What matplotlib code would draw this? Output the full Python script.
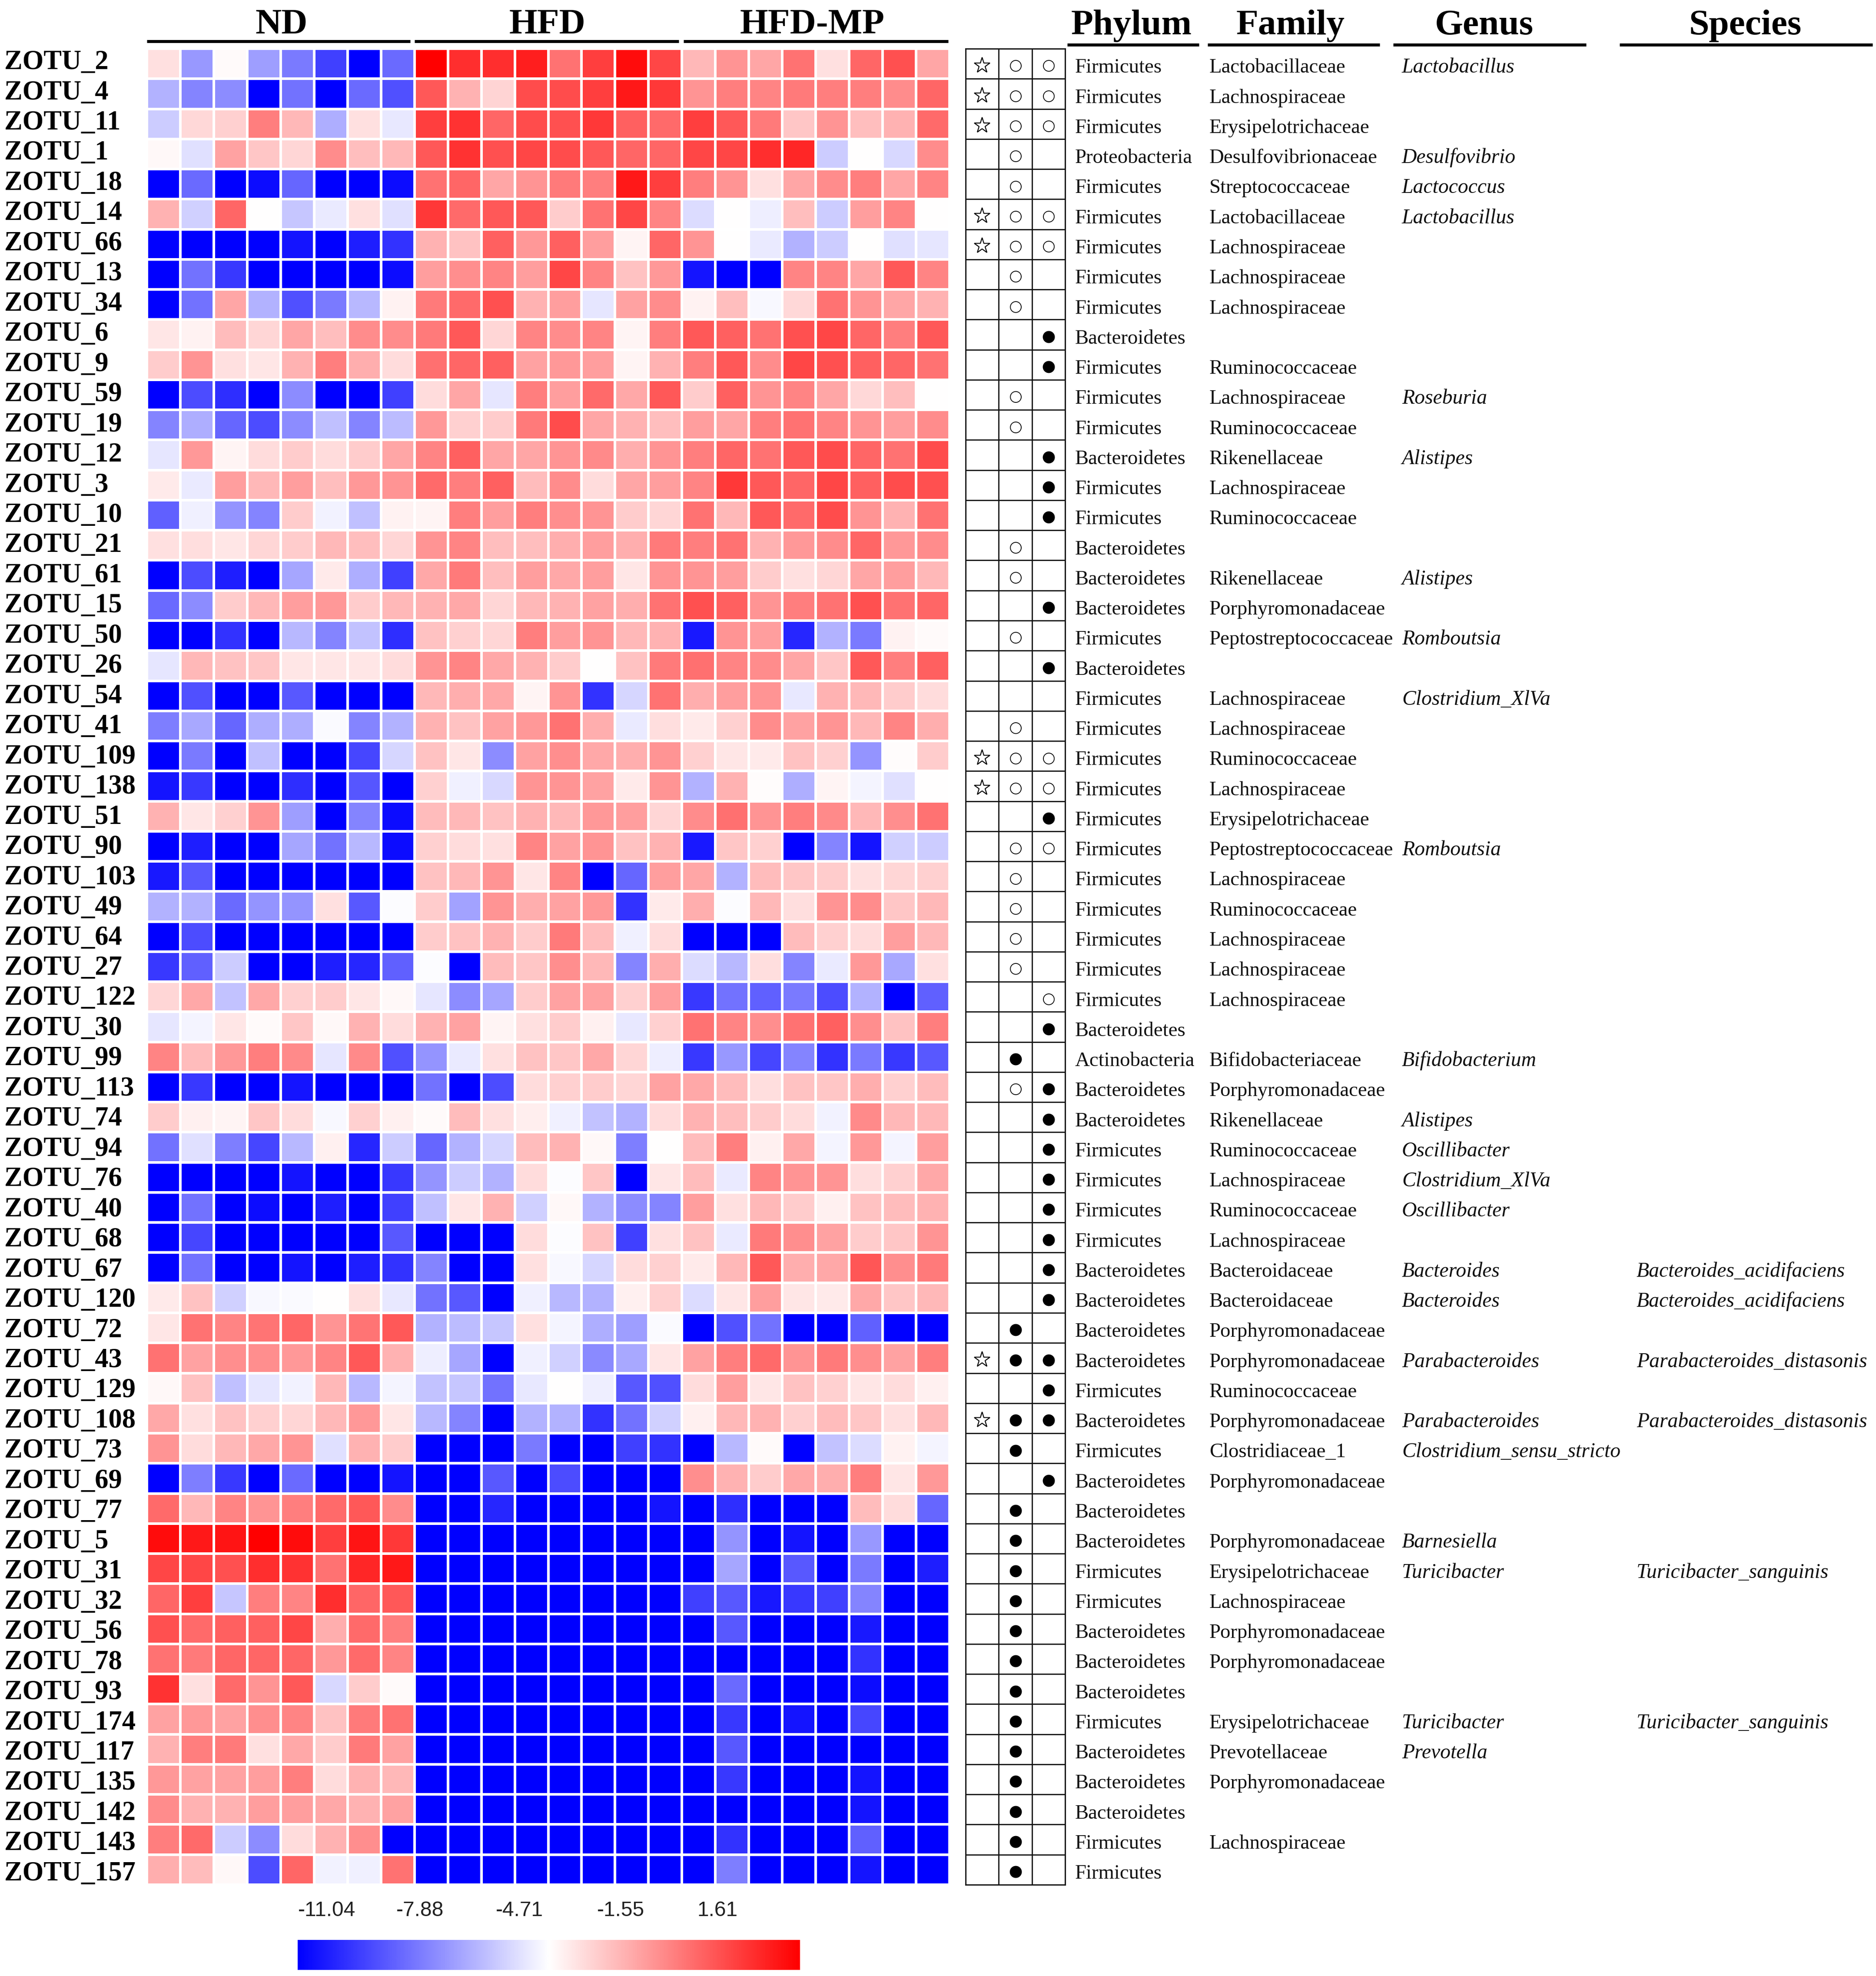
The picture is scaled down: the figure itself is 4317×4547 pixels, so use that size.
import matplotlib

matplotlib.use("Agg")
import matplotlib.pyplot as plt
import numpy as np
from matplotlib.colors import LinearSegmentedColormap, Normalize

W, H = 4317, 4547
HEAT = (338, 112, 2185, 4337)
GRID = (2222, 112, 2451, 4337)
CBAR = (685, 4464, 1841, 4533)
SERIF = "Liberation Serif"
SANS = "Liberation Sans"

zotu = [2, 4, 11, 1, 18, 14, 66, 13, 34, 6, 9, 59, 19, 12, 3, 10, 21, 61, 15, 50, 26, 54, 41, 109, 138, 51, 90,
        103, 49, 64, 27, 122, 30, 99, 113, 74, 94, 76, 40, 68, 67, 120, 72, 43, 129, 108, 73, 69, 77, 5, 31, 32,
        56, 78, 93, 174, 117, 135, 142, 143, 157]

# colour strength per cell, -100 is full blue and 100 is full red
nd = [
    [12, -40, 2, -38, -52, -75, -100, -58], [-30, -48, -45, -100, -55, -100, -58, -68],
    [-20, 15, 18, 50, 28, -32, 12, -9], [3, -12, 36, 22, 16, 45, 25, 28],
    [-100, -58, -100, -95, -60, -100, -100, -95], [30, -18, 60, 0, -22, -8, 12, -12],
    [-100, -100, -100, -100, -92, -100, -88, -80], [-100, -55, -78, -100, -100, -100, -100, -95],
    [-100, -55, 35, -30, -68, -52, -28, 5], [10, 5, 26, 16, 35, 25, 45, 45],
    [20, 42, 12, 10, 30, 50, 32, 14], [-100, -70, -82, -100, -45, -100, -100, -75],
    [-48, -32, -60, -70, -45, -25, -48, -26], [-10, 40, 4, 14, 20, 14, 20, 35],
    [8, -8, 38, 28, 38, 25, 40, 42], [-62, -6, -42, -48, 20, -5, -25, 5],
    [12, 13, 10, 16, 20, 28, 25, 16], [-100, -70, -88, -100, -35, 8, -32, -75],
    [-58, -45, 20, 28, 38, 40, 20, 28], [-100, -100, -80, -100, -28, -48, -24, -82],
    [-10, 28, 24, 22, 10, 10, 10, 14], [-100, -68, -100, -100, -65, -100, -100, -100],
    [-50, -34, -60, -32, -32, -2, -48, -30], [-100, -52, -100, -25, -100, -100, -72, -16],
    [-92, -78, -100, -100, -82, -100, -66, -100], [30, 10, 18, 42, -38, -100, -48, -95],
    [-100, -88, -100, -100, -35, -55, -28, -95], [-90, -65, -100, -100, -100, -100, -100, -100],
    [-30, -30, -58, -42, -42, 12, -65, -1], [-100, -70, -100, -100, -100, -100, -100, -100],
    [-78, -62, -20, -100, -100, -88, -85, -62], [16, 34, -24, 34, 18, 20, 10, 3],
    [-10, -4, 10, 2, 22, 3, 30, 14], [48, 26, 40, 50, 46, -10, 46, -68],
    [-100, -78, -100, -100, -92, -100, -100, -100], [20, 6, 4, 22, 14, -3, 18, 6],
    [-55, -12, -50, -72, -28, 6, -85, -20], [-100, -100, -100, -100, -92, -100, -100, -78],
    [-100, -55, -100, -95, -100, -88, -100, -75], [-100, -72, -100, -100, -100, -100, -100, -65],
    [-100, -55, -100, -100, -92, -100, -88, -80], [8, 24, -18, -3, -2, 0, 12, -9],
    [10, 55, 48, 54, 60, 42, 54, 65], [55, 36, 44, 44, 40, 48, 65, 30],
    [3, 24, -25, -10, -5, 28, -28, -4], [34, 12, 24, 18, 16, 28, 40, 10],
    [42, 14, 28, 34, 42, -12, 30, 20], [-100, -50, -78, -100, -58, -100, -100, -92],
    [58, 28, 48, 42, 50, 58, 65, 45], [95, 90, 92, 100, 95, 75, 92, 78],
    [72, 72, 68, 82, 80, 55, 85, 90], [60, 75, -22, 50, 48, 82, 60, 65],
    [68, 58, 62, 62, 72, 32, 58, 50], [55, 52, 60, 60, 60, 40, 58, 48],
    [80, 12, 58, 42, 65, -15, 20, 2], [36, 40, 36, 44, 48, 24, 52, 55],
    [30, 50, 52, 12, 34, 20, 52, 36], [40, 36, 36, 38, 50, 14, 30, 28],
    [45, 30, 30, 38, 38, 34, 30, 36], [50, 58, -20, -45, 14, 30, 44, -100],
    [32, 26, 3, -70, 60, -5, -6, 55],
]
hfd = [
    [100, 82, 82, 88, 55, 75, 95, 72], [65, 30, 17, 70, 70, 75, 90, 78],
    [75, 80, 60, 70, 68, 78, 62, 58], [65, 80, 68, 72, 70, 65, 60, 60],
    [55, 60, 35, 42, 52, 50, 90, 75], [78, 58, 65, 65, 20, 55, 72, 48],
    [30, 24, 62, 40, 62, 38, 4, 60], [38, 44, 48, 38, 72, 48, 24, 40],
    [52, 58, 68, 30, 38, -10, 36, 45], [52, 65, 16, 48, 45, 48, 4, 50],
    [56, 60, 62, 36, 40, 38, 4, 30], [14, 35, -10, 50, 38, 58, 34, 65],
    [40, 18, 20, 52, 70, 35, 30, 25], [48, 62, 35, 35, 42, 46, 32, 42],
    [58, 50, 62, 26, 45, 14, 35, 38], [4, 50, 38, 50, 44, 42, 20, 16],
    [42, 48, 25, 25, 32, 38, 32, 52], [34, 52, 25, 38, 34, 38, 10, 42],
    [30, 34, 16, 28, 30, 36, 32, 55], [24, 18, 16, 50, 38, 42, 28, 30],
    [42, 48, 34, 30, 20, 0, 24, 52], [28, 32, 34, 4, 42, -80, -16, 55],
    [30, 24, 36, 40, 55, 32, -8, 13], [24, 10, -45, 36, 44, 34, 32, 42],
    [18, -6, -15, 42, 42, 36, 8, 42], [26, 28, 24, 30, 28, 40, 38, 16],
    [18, 14, 12, 48, 36, 42, 24, 30], [24, 28, 42, 10, 48, -100, -60, 38],
    [20, -36, 42, 32, 36, 40, -80, 8], [20, 24, 30, 20, 52, 25, -6, 14],
    [-1, -100, 26, 22, 44, 28, -48, 32], [-10, -45, -35, 20, 36, 36, 18, 38],
    [30, 36, 4, 12, 20, 6, -9, 18], [-42, -8, 12, 24, 22, 34, 16, -7],
    [-55, -100, -70, 14, 18, 20, 16, 36], [2, 26, 12, 7, -6, -24, -30, 14],
    [-60, -30, -16, 26, 30, 3, -50, 0], [-42, -20, -30, 14, -1, 22, -100, 10],
    [-25, 10, 30, -18, 3, -30, -45, -48], [-100, -100, -100, 14, -1, 24, -75, 12],
    [-48, -100, -100, 12, -3, -16, 14, 18], [-55, -65, -100, -6, -28, -30, 6, 18],
    [-30, -26, -22, 12, -4, -32, -38, -2], [-7, -35, -100, -6, -18, -46, -34, 10],
    [-24, -22, -55, -9, 0, -7, -65, -68], [-28, -48, -100, -30, -30, -80, -55, -18],
    [-100, -100, -100, -52, -100, -100, -75, -80], [-100, -100, -65, -100, -70, -100, -100, -100],
    [-100, -100, -85, -100, -100, -100, -100, -92], [-100] * 8, [-100] * 8, [-100] * 8, [-100] * 8,
    [-100] * 8, [-100] * 8, [-100] * 8, [-100] * 8, [-100] * 8, [-100] * 8, [-100] * 8, [-100] * 8,
]
hfd_mp = [
    [28, 42, 35, 55, 12, 60, 68, 35], [42, 50, 48, 52, 50, 50, 45, 60],
    [75, 65, 52, 22, 42, 25, 30, 58], [72, 72, 82, 85, -20, 0, -15, 45],
    [50, 42, 12, 35, 45, 50, 35, 48], [-14, 0, -7, 25, -20, 38, 48, 0],
    [42, 0, -8, -30, -20, 0, -12, -10], [-92, -100, -100, 48, 48, 35, 65, 48],
    [5, 25, -3, 15, 55, 42, 35, 30], [65, 62, 55, 68, 72, 60, 50, 65],
    [50, 65, 45, 72, 68, 62, 60, 55], [20, 62, 42, 48, 35, 15, 25, 0],
    [38, 35, 50, 55, 48, 42, 38, 45], [50, 60, 55, 65, 70, 60, 55, 70],
    [48, 78, 65, 60, 72, 62, 70, 68], [55, 28, 65, 58, 70, 42, 30, 55],
    [50, 55, 30, 40, 45, 60, 40, 45], [42, 38, 20, 12, 16, 35, 38, 28],
    [68, 62, 42, 50, 55, 68, 55, 60], [-90, 42, 38, -85, -30, -52, 5, 2],
    [56, 48, 45, 35, 22, 65, 50, 62], [32, 38, 42, -9, 30, 28, 20, 14],
    [8, 18, 45, 36, 42, 28, 48, 32], [18, 10, 8, 24, 18, -42, 1, 20],
    [-30, 30, 1, -32, 4, -4, -12, 0], [45, 56, 42, 50, 46, 28, 44, 55],
    [-90, 22, 18, -100, -48, -92, -18, -20], [35, -30, 26, 22, 20, 12, 16, 18],
    [32, -1, 28, 13, 42, 45, 22, 28], [-100, -100, -100, 26, 18, 14, 38, 28],
    [-14, -28, 13, -48, -8, 40, -34, 12], [-78, -55, -62, -52, -70, -30, -100, -62],
    [55, 48, 44, 55, 62, 44, 24, 50], [-78, -40, -72, -48, -80, -52, -78, -65],
    [34, 26, 13, 24, 22, 32, 18, 26], [30, 25, 20, 14, -5, 46, 28, 28],
    [26, 50, 6, 34, -4, 40, -4, 38], [26, -8, 48, 42, 42, 13, 18, 34],
    [38, 12, 28, 20, 6, 24, 26, 30], [24, -8, 52, 44, 36, 20, 22, 42],
    [8, 28, 65, 32, 34, 66, 44, 52], [-14, 10, 38, 10, 8, 34, 22, 28],
    [-100, -68, -55, -100, -100, -62, -100, -100], [36, 50, 58, 42, 52, 44, 36, 50],
    [14, 38, 10, 24, 18, 10, 14, 6], [6, 28, 30, 18, 26, 22, 12, 28],
    [-100, -28, 2, -100, -24, -14, 5, -4], [44, 30, 20, 34, 32, 50, 10, 40],
    [-100, -82, -100, -100, -100, 26, 14, -60], [-100, -42, -100, -92, -100, -40, -100, -100],
    [-100, -35, -100, -65, -100, -52, -100, -88], [-75, -65, -90, -78, -75, -48, -100, -100],
    [-100, -65, -100, -100, -100, -90, -100, -100], [-100, -100, -100, -100, -100, -80, -100, -100],
    [-100, -58, -100, -100, -100, -95, -100, -100], [-100, -78, -100, -92, -100, -72, -100, -100],
    [-100, -65, -100, -100, -100, -100, -100, -100], [-100, -78, -100, -100, -100, -92, -100, -100],
    [-100, -100, -100, -100, -100, -92, -100, -100], [-100, -80, -100, -100, -100, -62, -100, -100],
    [-100, -50, -100, -100, -100, -92, -100, -100],
]

# three comparison columns: * star, o open dot, f filled dot, - empty
marks = ["*oo", "*oo", "*oo", "-o-", "-o-", "*oo", "*oo", "-o-", "-o-", "--f", "--f", "-o-", "-o-", "--f", "--f",
         "--f", "-o-", "-o-", "--f", "-o-", "--f", "---", "-o-", "*oo", "*oo", "--f", "-oo", "-o-", "-o-", "-o-",
         "-o-", "--o", "--f", "-f-", "-of", "--f", "--f", "--f", "--f", "--f", "--f", "--f", "-f-", "*ff", "--f",
         "*ff", "-f-", "--f", "-f-", "-f-", "-f-", "-f-", "-f-", "-f-", "-f-", "-f-", "-f-", "-f-", "-f-", "-f-",
         "-f-"]

F, B = "Firmicutes", "Bacteroidetes"
phylum = [F, F, F, "Proteobacteria", F, F, F, F, F, B, F, F, F, B, F, F, B, B, B, F, B, F, F, F, F, F, F, F, F, F,
          F, F, B, "Actinobacteria", B, B, F, F, F, F, B, B, B, B, F, B, F, B, B, B, F, F, B, B, B, F, B, B, B, F, F]

LA, RU, PO = "Lachnospiraceae", "Ruminococcaceae", "Porphyromonadaceae"
ER, PE, RI = "Erysipelotrichaceae", "Peptostreptococcaceae", "Rikenellaceae"
family = ["Lactobacillaceae", LA, ER, "Desulfovibrionaceae", "Streptococcaceae", "Lactobacillaceae", LA, LA, LA, "",
          RU, LA, RU, RI, LA, RU, "", RI, PO, PE, "", LA, LA, RU, LA, ER, PE, LA, RU, LA, LA, LA, "",
          "Bifidobacteriaceae", PO, RI, RU, LA, RU, LA, "Bacteroidaceae", "Bacteroidaceae", PO, PO, RU, PO,
          "Clostridiaceae_1", PO, "", PO, ER, LA, PO, PO, "", ER, "Prevotellaceae", PO, "", LA, ""]

genus = {0: "Lactobacillus", 3: "Desulfovibrio", 4: "Lactococcus", 5: "Lactobacillus", 11: "Roseburia", 13: "Alistipes",
         17: "Alistipes", 19: "Romboutsia", 21: "Clostridium_XlVa", 26: "Romboutsia", 33: "Bifidobacterium",
         35: "Alistipes", 36: "Oscillibacter", 37: "Clostridium_XlVa", 38: "Oscillibacter", 40: "Bacteroides",
         41: "Bacteroides", 43: "Parabacteroides", 45: "Parabacteroides", 46: "Clostridium_sensu_stricto",
         49: "Barnesiella", 50: "Turicibacter", 55: "Turicibacter", 56: "Prevotella"}
species = {40: "Bacteroides_acidifaciens", 41: "Bacteroides_acidifaciens", 43: "Parabacteroides_distasonis",
           45: "Parabacteroides_distasonis", 50: "Turicibacter_sanguinis", 55: "Turicibacter_sanguinis"}

group_names = ["ND", "HFD", "HFD-MP"]
group_rules = [(338, 944), (954, 1562), (1573, 2182)]
group_centres = [648, 1260, 1869]
taxon_names = ["Phylum", "Family", "Genus", "Species"]
taxon_rules = [(2456, 2759), (2779, 3175), (3206, 3650), (3727, 4309)]
taxon_centres = [2604, 2970, 3415, 4016]
cbar_ticks = ["-11.04", "-7.88", "-4.71", "-1.55", "1.61"]
cbar_tick_x = [752, 967, 1195, 1428, 1651]
cbar_min, cbar_max = -11.98, 4.28


def px_axes(fig, box):
    left, top, right, bottom = box
    return fig.add_axes([left / W, 1 - bottom / H, (right - left) / W, (bottom - top) / H])


fig = plt.figure(figsize=(W / 100, H / 100), dpi=100, facecolor="white")
cmap = LinearSegmentedColormap.from_list("bwr_heat", ["#0000ff", "#ffffff", "#ff0000"])
n_rows = len(zotu)
row_h = (HEAT[3] - HEAT[1]) / n_rows

page = fig.add_axes([0, 0, 1, 1])
page.set_xlim(0, W)
page.set_ylim(H, 0)
page.axis("off")

# heat map
shade = np.hstack([np.array(nd), np.array(hfd), np.array(hfd_mp)])
log_values = (cbar_max + cbar_min) / 2 + shade / 100 * (cbar_max - cbar_min) / 2
norm = Normalize(cbar_min, cbar_max)
ax = px_axes(fig, HEAT)
ax.pcolormesh(log_values, cmap=cmap, norm=norm, edgecolors="white", linewidth=3)
ax.set_ylim(n_rows, 0)
ax.axis("off")

# header rules and titles
for name, (x0, x1), xc in zip(group_names, group_rules, group_centres):
    page.plot([x0, x1], [95, 95], color="black", lw=5, solid_capstyle="butt")
    page.text(xc, 77, name, family=SERIF, weight="bold", fontsize=60, ha="center", va="baseline")
for name, (x0, x1), xc in zip(taxon_names, taxon_rules, taxon_centres):
    page.plot([x0, x1], [103, 103], color="black", lw=5, solid_capstyle="butt")
    page.text(xc, 79, name, family=SERIF, weight="bold", fontsize=60, ha="center", va="baseline")

# comparison marks, they sit a little below the cell centre
grid = px_axes(fig, GRID)
grid.set_xlim(0, 3)
grid.set_ylim(n_rows, 0)
grid.set_xticks(range(4))
grid.set_yticks(range(n_rows + 1))
grid.grid(True, color="#111111", lw=2)
grid.tick_params(left=False, bottom=False, labelleft=False, labelbottom=False)
for spine in grid.spines.values():
    spine.set_linewidth(2)
    spine.set_color("#111111")
for row, code in enumerate(marks):
    for col, sym in enumerate(code):
        if sym == "*":
            grid.plot(col + 0.5, row + 0.56, "*", ms=27, mfc="none", mec="black", mew=1.6)
        elif sym == "o":
            grid.plot(col + 0.5, row + 0.57, "o", ms=18, mfc="none", mec="black", mew=1.3)
        elif sym == "f":
            grid.plot(col + 0.5, row + 0.57, "o", ms=20, mfc="black", mec="black", mew=0)

# row labels and taxonomy columns
for row, num in enumerate(zotu):
    label_y = HEAT[1] + 0.68 * row_h + row * (row_h + 0.2)
    text_y = HEAT[1] + (row + 0.8) * row_h
    page.text(10, label_y, f"ZOTU_{num}", family=SERIF, weight="bold", fontsize=45, va="baseline")
    page.text(2474, text_y, phylum[row], family=SERIF, fontsize=33.7, va="baseline", color="#111111")
    page.text(2783, text_y, family[row], family=SERIF, fontsize=33.7, va="baseline", color="#111111")
    if row in genus:
        page.text(3226, text_y, genus[row], family=SERIF, style="italic", fontsize=34.3, va="baseline", color="#111111")
    if row in species:
        page.text(3766, text_y, species[row], family=SERIF, style="italic", fontsize=34.3, va="baseline", color="#111111")

# colour bar
cax = px_axes(fig, CBAR)
cax.imshow(np.linspace(cbar_min, cbar_max, 512)[None, :], cmap=cmap, norm=norm, aspect="auto",
           extent=(cbar_min, cbar_max, 0, 1))
cax.axis("off")
for label, x in zip(cbar_ticks, cbar_tick_x):
    page.text(x, 4409, label, family=SANS, fontsize=34.5, ha="center", va="baseline", color="#222222")

fig.savefig("out.png", dpi=100)
